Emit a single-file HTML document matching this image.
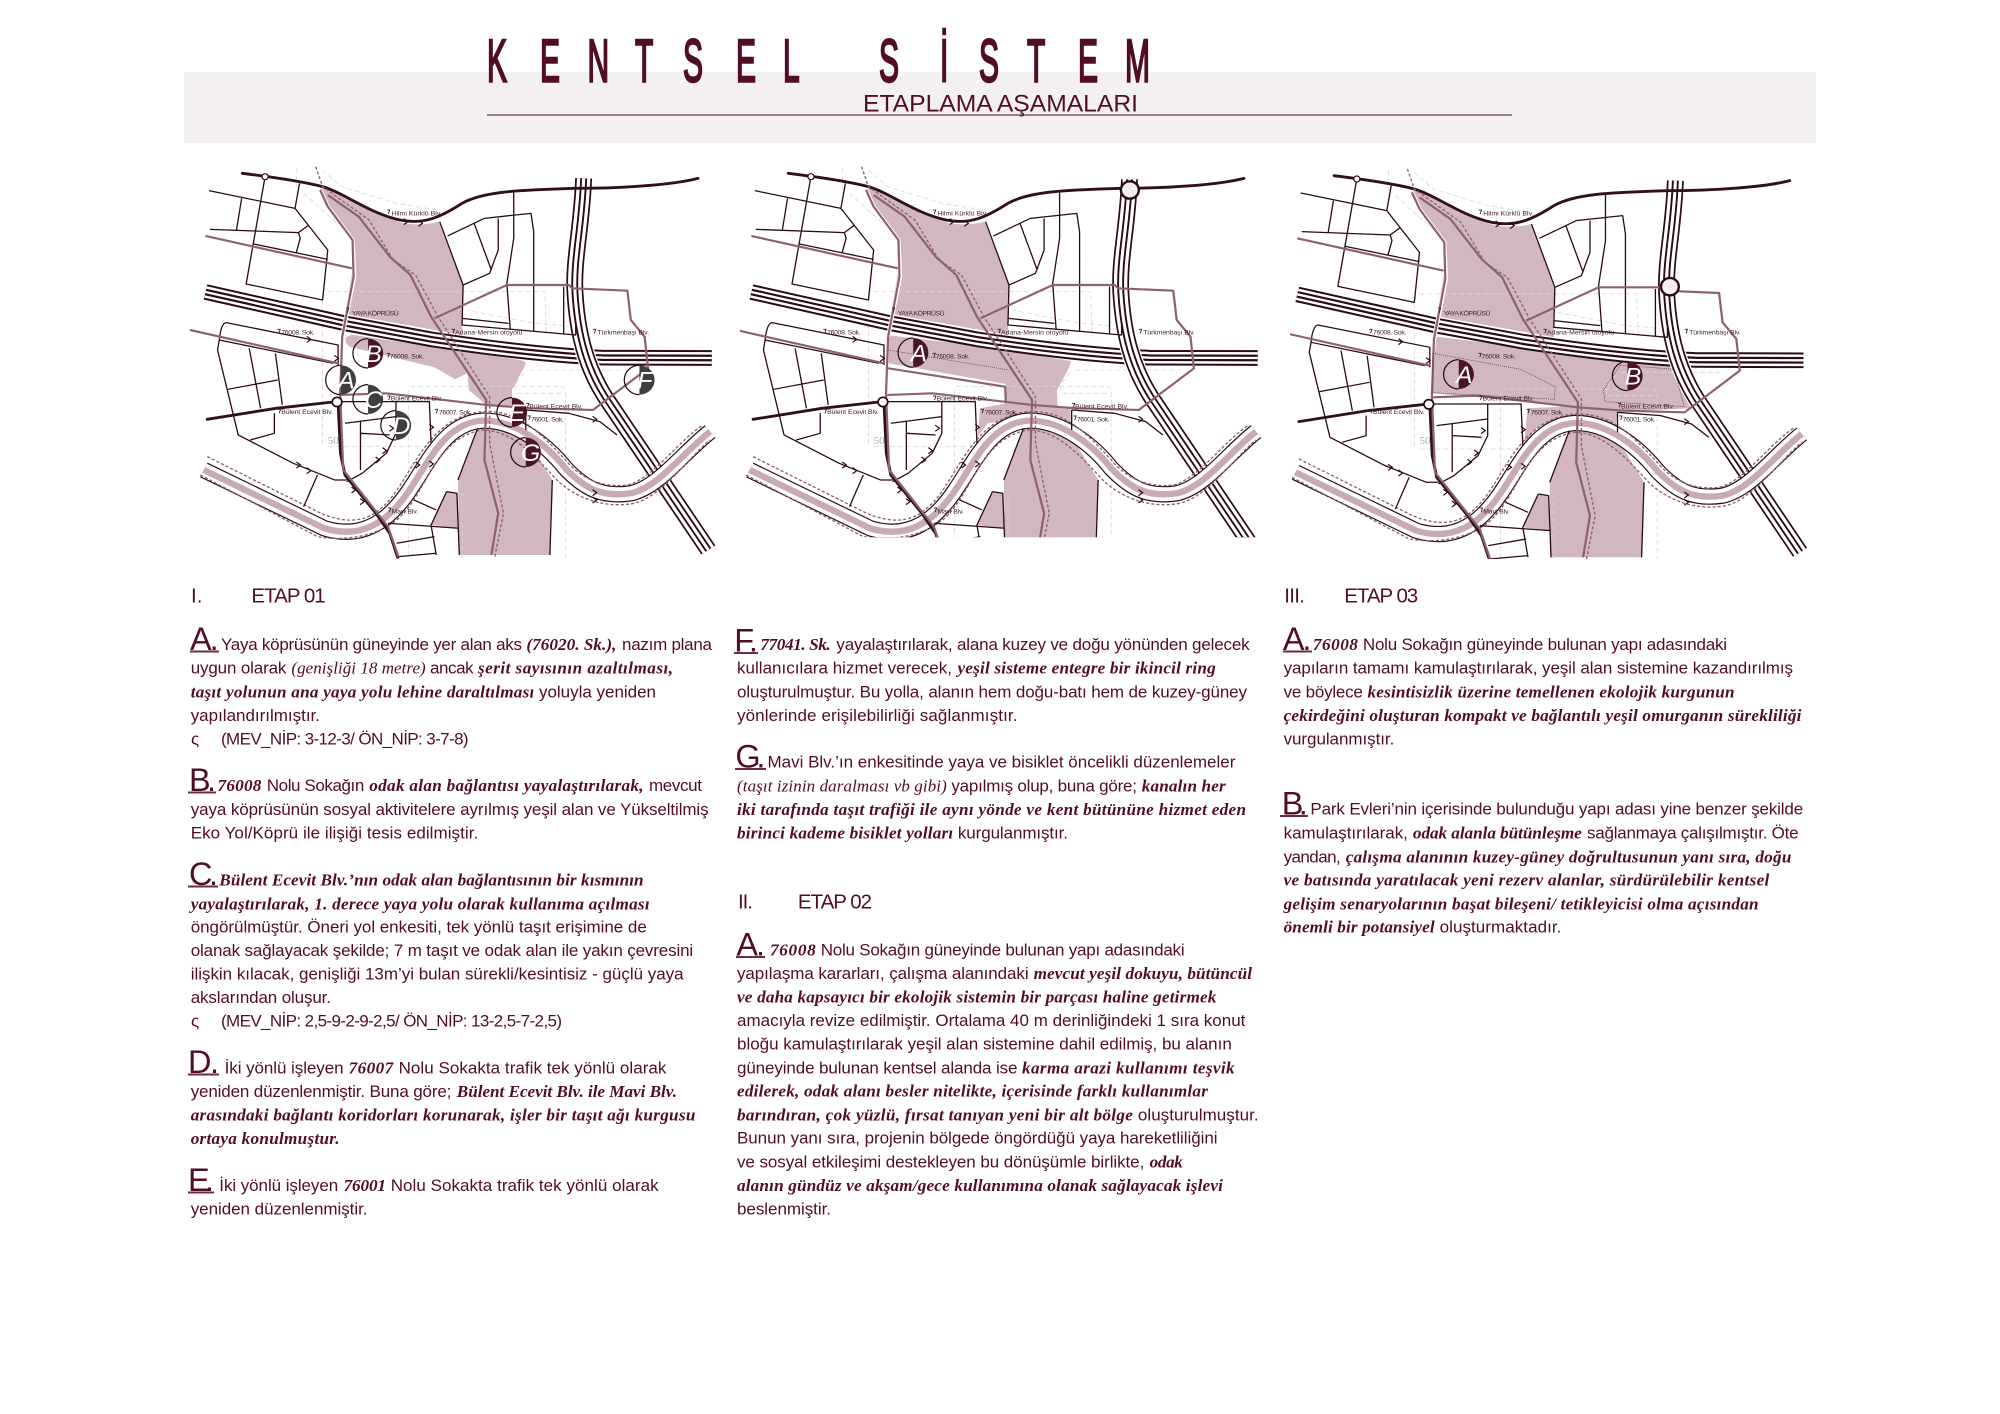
<!DOCTYPE html>
<html lang="tr"><head><meta charset="utf-8"><title>Kentsel Sistem</title>
<style>
html,body{margin:0;padding:0;background:#fff}
svg{display:block}
text{fill:#520d26}
.s{font:17px "Liberation Sans",sans-serif}
.b{font:italic bold 17.2px "Liberation Serif",serif}
.i{font:italic 17px "Liberation Serif",serif}
.h{font:32.5px "Liberation Sans",sans-serif}
.e{font:20.5px "Liberation Sans",sans-serif}
.m{font:20px "Liberation Sans",sans-serif;fill:#3f1f2a}
.ml{font:italic 72px "Liberation Sans",sans-serif;fill:#fff;text-anchor:middle}
.d{fill:none;stroke:#2a0a14;stroke-width:3.8;stroke-linejoin:round}
.k{fill:none;stroke:#30101a;stroke-width:8.5;stroke-linecap:round;stroke-linejoin:round}
.p{fill:none;stroke:#8d6170;stroke-width:6.5;stroke-linejoin:round}
.q{fill:none;stroke:#8d6170;stroke-width:4;stroke-dasharray:9 6}
.g{fill:none;stroke:#d8d8d8;stroke-width:2.4;stroke-dasharray:14 9}
.f{fill:#d1b8c0}
.o{fill:none;stroke:#4f2d39;stroke-width:2;stroke-dasharray:3 3}
</style></head><body>
<svg xmlns="http://www.w3.org/2000/svg" width="2000" height="1414" viewBox="0 0 2000 1414">
<defs>
<path id="he" d="M45,396 L450,490 L700,538 Q1000,585 1200,593 L1515,594"/>
<path id="hn" d="M1143,55 C1138,200 1112,300 1118,400 C1125,520 1150,620 1205,710 L1505,1170"/>
<path id="mv" d="M40,930 L390,1105 C470,1130 540,1110 600,1040 C680,950 720,790 850,782 C950,780 1040,860 1090,925 C1150,990 1200,1012 1280,1000 C1360,982 1430,880 1510,815"/>
<path id="c" d="M-9,-9 L3,0 L-9,9" fill="none" stroke="#2a0a14" stroke-width="3.6"/>
<path id="hl" d="M0,-44 A44,44 0 0 0 0,44" fill="none" stroke="#2a0a14" stroke-width="3.6"/>
<path id="hg" d="M0,-44 A44,44 0 0 1 0,44 Z" fill="#3f3f43"/>
<path id="hm" d="M0,-44 A44,44 0 0 1 0,44 Z" fill="#4a1423"/>
<clipPath id="c1"><rect x="0" y="0" width="1568" height="1197"/></clipPath>
<clipPath id="c2"><rect x="0" y="0" width="1568" height="1132"/></clipPath>
<g id="base">
  <path class="f" d="M378,88 Q390,82 410,90 L470,125 Q560,170 620,190 Q680,198 722,185 L793,375 L790,525 L700,508 L450,462 L472,330 L475,245 L400,135 Z"/>
  <path class="f" d="M835,805 L778,960 L782,1185 L1045,1185 L1052,960 L975,830 L945,790 L850,770 Z"/>
  <path class="f" d="M745,995 L775,1000 L780,1105 L700,1095 Z"/>
  <g class="g">
    <path d="M310,25 V100 M330,100 L470,230 M385,30 L440,80 L600,130 L720,150"/>
    <path d="M400,395 H1030 L1035,520 M385,400 V860 M400,860 H700"/>
    <path d="M640,680 H1075 Q1090,680 1090,700 V1195 M635,690 V1195"/>
    <path d="M985,630 H1280 M970,640 Q930,680 950,700 L1080,700 M800,450 L1000,490 L1120,500 M790,1195 V1000"/>
  </g>
  <use href="#he" fill="none" stroke="#2a0a14" stroke-width="47"/>
  <use href="#he" fill="none" stroke="#fff" stroke-width="35"/>
  <use href="#he" fill="none" stroke="#2a0a14" stroke-width="20"/>
  <use href="#he" fill="none" stroke="#fff" stroke-width="7"/>
  <use href="#hn" fill="none" stroke="#fff" stroke-width="56"/>
  <use href="#hn" fill="none" stroke="#2a0a14" stroke-width="49"/>
  <use href="#hn" fill="none" stroke="#fff" stroke-width="39"/>
  <use href="#hn" fill="none" stroke="#2a0a14" stroke-width="20"/>
  <use href="#hn" fill="none" stroke="#fff" stroke-width="9"/>
  <use href="#mv" fill="none" stroke="#2a0a14" stroke-width="49"/>
  <use href="#mv" fill="none" stroke="#fff" stroke-width="42"/>
  <use href="#mv" fill="none" stroke="#c9aab4" stroke-width="19"/>
  <path class="q" d="M50,890 L380,1060 C450,1090 510,1090 560,1040 C640,970 680,770 850,755 C950,750 1010,810 1090,900 C1130,950 1190,985 1270,975 C1340,960 1420,840 1490,795"/>
  <path class="q" d="M30,945 L370,1130 C450,1145 560,1130 620,1060 C690,980 720,830 850,810 C940,810 1010,900 1070,965 C1130,1020 1210,1045 1290,1030 C1370,1010 1450,890 1510,840"/>
  <path class="k" d="M152,40 C230,50 330,65 385,80 C450,100 520,160 610,180 C680,195 730,170 790,130 C850,95 950,90 1120,85 C1250,85 1400,75 1475,55"/>
  <path class="k" d="M50,778 L250,745 L425,725"/>
  <path class="k" d="M430,725 L437,880 L450,945 L540,1060 L580,1120 L603,1192"/>
  <g class="d">
    <path d="M55,92 L305,145 L400,270 L385,420 L163,372 L218,50 M318,70 L305,145 M150,115 L135,210 M58,208 L315,218 L345,195 M315,218 L320,235 L308,280 M185,252 L400,298"/>
    <path d="M725,185 L793,375 L870,340 L895,270 L895,175 M748,228 L855,175 L990,160 L998,215 L998,515 M825,190 L875,330 M940,95 L940,235 L920,370 L930,510 M1085,380 V520 M793,375 L790,495 L1120,525 L1120,490 M790,475 L925,490"/>
    <path d="M105,488 L430,555 V615 M105,488 Q90,490 85,540 L80,570 L140,825 L300,910 L420,960 L455,960 M85,540 L415,610 M172,565 L205,745 M248,580 L268,735 M110,688 L255,660 M245,760 V820 L175,840 M370,945 L330,1040"/>
    <path d="M425,725 H695 L700,850 M598,725 V820 L570,880 L500,940 L455,965 M450,790 L598,770 M495,785 V930 M497,820 L580,825"/>
    <path d="M575,1090 L780,1105 M650,1020 L715,1050 M745,995 L700,1095 L715,1185 M600,1150 L710,1130 M605,1190 L715,1180 M745,995 L775,1000 L782,1185 M835,805 L778,960 M1045,1185 L1052,960"/>
    <path d="M975,750 L1100,760 L1190,785 L1240,825 M975,750 V810"/>
  </g>
  <path fill="none" stroke="#fff" stroke-width="12" d="M378,90 L400,140 L472,240 L477,350 L442,530"/>
  <path class="p" d="M378,90 L400,140 L472,240 L475,350 L442,530 L436,700 L445,930 L575,1100 L605,1190"/>
  <path class="p" stroke-width="4.5" d="M45,228 L470,325 M0,510 L430,610"/>
  <path class="p" stroke-width="7.5" d="M400,105 L490,170 L580,290 L640,345 L700,470 L860,720 L855,900 L895,1060 L875,1185"/>
  <path class="q" d="M365,20 L385,80 L520,180 L590,300 L655,345 L720,470 L870,710 L870,850 L910,1060 L885,1190"/>
  <path class="p" d="M440,705 L570,700 L860,735"/>
  <path class="p" stroke-width="5" d="M710,475 L920,375 H1100 L1110,385 L1270,392 L1280,480 L1320,530 L1330,625 L1170,750 L990,745 L860,735"/>
  <use href="#c" x="630" y="185"/><use href="#c" x="672" y="190"/><use href="#c" x="348" y="538"/><use href="#c" x="428" y="595"/><use href="#c" x="318" y="915"/><use href="#c" x="348" y="932"/><use href="#c" x="704" y="802"/><use href="#c" x="1178" y="778"/><use href="#c" x="1178" y="998"/><use href="#c" x="1178" y="1020"/><use href="#c" x="664" y="915"/><use href="#c" x="704" y="912"/><use href="#c" x="548" y="900"/><use href="#c" x="568" y="872"/><use href="#c" x="588" y="805"/><use href="#c" x="478" y="990"/><use href="#c" x="503" y="1025"/>
</g>
<g id="labels">
  <text class="m" x="585" y="166" textLength="146">Hilmi Kürklü Blv.</text>
  <text class="m" x="470" y="466" textLength="136">YAYA KÖPRÜSÜ</text>
  <text class="m" x="265" y="524" textLength="97">76008. Sok.</text>
  <text class="m" x="770" y="524" textLength="195">Adana-Mersin otoyolu</text>
  <text class="m" x="1183" y="524" textLength="150">Türkmenbaşı Blv.</text>
  <text class="m" x="580" y="596" textLength="100">76008. Sok.</text>
  <text class="m" x="583" y="722" textLength="150">Bülent Ecevit Blv.</text>
  <text class="m" x="265" y="762" textLength="150">Bülent Ecevit Blv.</text>
  <text class="m" x="723" y="764" textLength="95">76007. Sok.</text>
  <text class="m" x="985" y="746" textLength="155">Bülent Ecevit Blv.</text>
  <text class="m" x="990" y="785" textLength="95">76001. Sok.</text>
  <text class="m" x="585" y="1060" textLength="77">Mavi Blv.</text>
  <text x="400" y="852" style="font:32px 'Liberation Serif',serif;fill:#aaa">50</text>
  <path d="M572,150 h8 l-4,12 M453,444 h8 l-4,14 M254,508 h8 l-4,12 M760,508 h8 l-4,12 M1170,508 h8 l-4,12 M571,580 h8 l-4,12 M573,708 h8 l-4,12 M255,748 h8 l-4,12 M711,748 h8 l-4,12 M976,730 h8 l-4,12 M980,768 h8 l-4,12 M575,1044 h8 l-4,12" fill="none" stroke="#3a1420" stroke-width="2.5"/>
</g>
</defs>

<rect width="2000" height="1414" fill="#fff"/>
<rect x="184" y="72" width="1632" height="71" fill="#f4f0f2"/>
<text transform="translate(0,81.7) scale(.5,1)" x="974 1080 1175 1270 1366 1472 1566 1660 1758 1880 1958 2054 2156 2250" style="font:60px 'Liberation Sans',sans-serif;stroke:#520d26;stroke-width:2.4">KENTSEL SİSTEM</text>
<rect x="487" y="114" width="1025" height="2" fill="#a07a88"/>
<text x="863" y="111.7" textLength="275" lengthAdjust="spacingAndGlyphs" style="font:24px 'Liberation Sans',sans-serif">ETAPLAMA AŞAMALARI</text>

<!-- MAP 1 -->
<g transform="translate(190,160) scale(.3444,.3333)" clip-path="url(#c1)">
  <path class="f" d="M452,532 Q448,556 470,562 L710,622 L770,658 L805,640 L810,690 L860,735 L935,740 L935,690 L975,612 Q975,605 960,600 L700,560 L470,524 Z"/>
  <use href="#base"/><use href="#labels"/>
  <g transform="translate(438,660)"><use href="#hl"/><use href="#hg"/><text class="ml" x="16" y="26">A</text></g>
  <g transform="translate(517,580)"><use href="#hl"/><use href="#hm"/><text class="ml" x="16" y="26">B</text></g>
  <g transform="translate(517,718)"><use href="#hl"/><use href="#hg"/><text class="ml" x="16" y="26">C</text></g>
  <g transform="translate(598,796)"><use href="#hl"/><use href="#hg"/><text class="ml" x="16" y="26">D</text></g>
  <g transform="translate(935,757)"><use href="#hl"/><use href="#hm"/><text class="ml" x="14" y="26">E</text></g>
  <g transform="translate(975,877)"><use href="#hl"/><use href="#hm"/><text class="ml" x="14" y="26">G</text></g>
  <g transform="translate(1305,660)"><use href="#hl"/><use href="#hg"/><text class="ml" x="16" y="26">F</text></g>
  <circle cx="218" cy="50" r="9" fill="#fff" stroke="#2a0a14" stroke-width="3.6"/>
  <circle cx="427" cy="726" r="14" fill="#fff" stroke="#2a0a14" stroke-width="5"/>
</g>

<!-- MAP 2 -->
<g transform="translate(740,160) scale(.3444,.3333)" clip-path="url(#c2)">
  <path class="f" d="M432,526 L700,558 L960,603 Q965,610 920,690 L922,740 L960,745 L960,815 L850,770 L720,790 L690,830 L697,745 L775,730 L772,672 L432,610 Z"/>
  <g transform="translate(-12,0)"><use href="#base"/><use href="#labels"/></g>
  <path class="p" stroke-width="4.5" fill="none" d="M430,625 L770,680 L772,730"/>
  <path class="o" d="M430,570 L780,630"/>
  <g transform="translate(503,578)"><use href="#hl"/><use href="#hm"/><text class="ml" x="16" y="26">A</text></g>
  <circle cx="206" cy="50" r="9" fill="#fff" stroke="#2a0a14" stroke-width="3.6"/>
  <circle cx="415" cy="726" r="14" fill="#fff" stroke="#2a0a14" stroke-width="5"/>
  <rect x="1100" y="40" width="60" height="18" fill="#fff"/>
  <circle cx="1132" cy="90" r="26" fill="#f4eeee" stroke="#2a0a14" stroke-width="7"/>
</g>

<!-- MAP 3 -->
<g transform="translate(1290,160) scale(.3444,.3333)" clip-path="url(#c1)">
  <path class="f" d="M425,530 L700,565 L1115,622 L1165,745 L950,755 L945,820 L850,775 L720,800 L680,850 L690,745 L830,738 L415,700 L418,620 Z"/>
  <g transform="translate(-24,7)"><use href="#base"/></g>
  <g transform="translate(-24,0)"><use href="#labels"/></g>
  <path class="o" d="M415,580 L670,628 L770,680 L768,718 L415,698 Z M960,615 L1115,628 L1145,740 L915,725 L910,690 Z"/>
  <g transform="translate(490,643)"><use href="#hl"/><use href="#hm"/><text class="ml" x="16" y="26">A</text></g>
  <g transform="translate(980,648)"><use href="#hl"/><use href="#hm"/><text class="ml" x="16" y="26">B</text></g>
  <circle cx="194" cy="57" r="9" fill="#fff" stroke="#2a0a14" stroke-width="3.6"/>
  <circle cx="403" cy="733" r="14" fill="#fff" stroke="#2a0a14" stroke-width="5"/>
  <circle cx="1103" cy="380" r="26" fill="#f4eeee" stroke="#2a0a14" stroke-width="7"/>
</g>

<!-- COLUMN 1 -->
<text class="e" x="191" y="602.7">I.</text><text class="e" x="251.4" y="602.7" textLength="74.3">ETAP 01</text>

<text class="h" x="190" y="650" textLength="28.6">A.</text><rect x="190" y="650.5" width="29" height="2" fill="#6d2b40"/>
<text class="s" x="221" y="650" textLength="301">Yaya köprüsünün güneyinde yer alan aks</text>
<text class="b" x="526.4" y="650" textLength="90">(76020. Sk.),</text>
<text class="s" x="622" y="650" textLength="90">nazım plana</text>
<text class="s" x="190.7" y="673.7" textLength="95.7">uygun olarak</text>
<text class="i" x="291.4" y="673.7" textLength="134.3">(genişliği 18 metre)</text>
<text class="s" x="430" y="673.7" textLength="43.6">ancak</text>
<text class="b" x="478" y="673.7" textLength="195">şerit sayısının azaltılması,</text>
<text class="b" x="190.7" y="697.3" textLength="343.6">taşıt yolunun ana yaya yolu lehine daraltılması</text>
<text class="s" x="539" y="697.3" textLength="117">yoluyla yeniden</text>
<text class="s" x="190.7" y="721" textLength="129.3">yapılandırılmıştır.</text>
<text class="s" x="191" y="744.7">ς</text>
<text class="s" x="221" y="744.7" textLength="247.6">(MEV_NİP: 3-12-3/ ÖN_NİP: 3-7-8)</text>

<text class="h" x="189" y="791" textLength="27">B.</text><rect x="188" y="791.5" width="28" height="2" fill="#6d2b40"/>
<text class="b" x="217.5" y="791" textLength="43.9">76008</text>
<text class="s" x="266.8" y="791" textLength="97.5">Nolu Sokağın</text>
<text class="b" x="369.3" y="791" textLength="274.3">odak alan bağlantısı yayalaştırılarak,</text>
<text class="s" x="649" y="791" textLength="53">mevcut</text>
<text class="s" x="190.7" y="815" textLength="517.9">yaya köprüsünün sosyal aktivitelere ayrılmış yeşil alan ve Yükseltilmiş</text>
<text class="s" x="190.7" y="838.3" textLength="287.5">Eko Yol/Köprü ile ilişiği tesis edilmiştir.</text>

<text class="h" x="189" y="885" textLength="29">C.</text><rect x="188" y="885.5" width="30" height="2" fill="#6d2b40"/>
<text class="b" x="219.3" y="885.3" textLength="424.3">Bülent Ecevit Blv.’nın odak alan bağlantısının bir kısmının</text>
<text class="b" x="190.7" y="909.3" textLength="458.9">yayalaştırılarak, 1. derece yaya yolu olarak kullanıma açılması</text>
<text class="s" x="190.7" y="932.7" textLength="456.1">öngörülmüştür. Öneri yol enkesiti, tek yönlü taşıt erişimine de</text>
<text class="s" x="190.7" y="956" textLength="502.5">olanak sağlayacak şekilde; 7 m taşıt ve odak alan ile yakın çevresini</text>
<text class="s" x="190.7" y="979.7" textLength="492.9">ilişkin kılacak, genişliği 13m’yi bulan sürekli/kesintisiz - güçlü yaya</text>
<text class="s" x="190.7" y="1003" textLength="140.3">akslarından oluşur.</text>
<text class="s" x="191" y="1026.7">ς</text>
<text class="s" x="221" y="1026.7" textLength="341">(MEV_NİP: 2,5-9-2-9-2,5/ ÖN_NİP: 13-2,5-7-2,5)</text>

<text class="h" x="188" y="1073" textLength="31">D.</text><rect x="188" y="1073.5" width="31" height="2" fill="#6d2b40"/>
<text class="s" x="224.6" y="1073.3" textLength="119">İki yönlü işleyen</text>
<text class="b" x="348.6" y="1073.3" textLength="44.6">76007</text>
<text class="s" x="398.6" y="1073.3" textLength="267.8">Nolu Sokakta trafik tek yönlü olarak</text>
<text class="s" x="190.7" y="1097" textLength="260.7">yeniden düzenlenmiştir. Buna göre;</text>
<text class="b" x="456.8" y="1097" textLength="220.2">Bülent Ecevit Blv. ile Mavi Blv.</text>
<text class="b" x="190.7" y="1120.7" textLength="504.7">arasındaki bağlantı koridorları korunarak, işler bir taşıt ağı kurgusu</text>
<text class="b" x="190.7" y="1144" textLength="148.9">ortaya konulmuştur.</text>

<text class="h" x="188" y="1191" textLength="26">E.</text><rect x="188" y="1191.5" width="26" height="2" fill="#6d2b40"/>
<text class="s" x="219.3" y="1191" textLength="118.9">İki yönlü işleyen</text>
<text class="b" x="343.6" y="1191" textLength="42.4">76001</text>
<text class="s" x="390.7" y="1191" textLength="267.9">Nolu Sokakta trafik tek yönlü olarak</text>
<text class="s" x="190.7" y="1214.7" textLength="176.8">yeniden düzenlenmiştir.</text>

<!-- COLUMN 2 -->
<text class="h" x="734.3" y="651.7" textLength="23.6">F.</text><rect x="734" y="652" width="24" height="2" fill="#6d2b40"/>
<text class="b" x="760.4" y="650" textLength="70.3">77041. Sk.</text>
<text class="s" x="836.4" y="650" textLength="413.2">yayalaştırılarak, alana kuzey ve doğu yönünden gelecek</text>
<text class="s" x="737" y="673.7" textLength="215">kullanıcılara hizmet verecek,</text>
<text class="b" x="957.5" y="673.7" textLength="258.2">yeşil sisteme entegre bir ikincil ring</text>
<text class="s" x="737" y="697.3" textLength="510">oluşturulmuştur. Bu yolla, alanın hem doğu-batı hem de kuzey-güney</text>
<text class="s" x="737" y="721" textLength="280.5">yönlerinde erişilebilirliği sağlanmıştır.</text>

<text class="h" x="735.4" y="767.7" textLength="30">G.</text><rect x="735" y="768" width="31" height="2" fill="#6d2b40"/>
<text class="s" x="767.5" y="767.7" textLength="467.9">Mavi Blv.’ın enkesitinde yaya ve bisiklet öncelikli düzenlemeler</text>
<text class="i" x="737" y="791.3" textLength="209.8">(taşıt izinin daralması vb gibi)</text>
<text class="s" x="951.4" y="791.3" textLength="185.6">yapılmış olup, buna göre;</text>
<text class="b" x="1141.8" y="791.3" textLength="83.9">kanalın her</text>
<text class="b" x="737" y="815" textLength="509">iki tarafında taşıt trafiği ile aynı yönde ve kent bütününe hizmet eden</text>
<text class="b" x="737" y="838.7" textLength="216.2">birinci kademe bisiklet yolları</text>
<text class="s" x="957.9" y="838.7" textLength="110.1">kurgulanmıştır.</text>

<text class="e" x="738" y="908.7" textLength="15">II.</text><text class="e" x="797.9" y="908.7" textLength="74.1">ETAP 02</text>

<text class="h" x="736.4" y="955.7" textLength="28.6">A.</text><rect x="736" y="956" width="29" height="2" fill="#6d2b40"/>
<text class="b" x="770" y="955.7" textLength="45.7">76008</text>
<text class="s" x="820.7" y="955.7" textLength="363.9">Nolu Sokağın güneyinde bulunan yapı adasındaki</text>
<text class="s" x="737" y="979" textLength="291.6">yapılaşma kararları, çalışma alanındaki</text>
<text class="b" x="1033.6" y="979" textLength="218.4">mevcut yeşil dokuyu, bütüncül</text>
<text class="b" x="737" y="1002.7" textLength="479.4">ve daha kapsayıcı bir ekolojik sistemin bir parçası haline getirmek</text>
<text class="s" x="737" y="1026" textLength="508.4">amacıyla revize edilmiştir. Ortalama 40 m derinliğindeki 1 sıra konut</text>
<text class="s" x="737" y="1049.7" textLength="494.8">bloğu kamulaştırılarak yeşil alan sistemine dahil edilmiş, bu alanın</text>
<text class="s" x="737" y="1073.3" textLength="280.5">güneyinde bulunan kentsel alanda ise</text>
<text class="b" x="1022" y="1073.3" textLength="212.6">karma arazi kullanımı teşvik</text>
<text class="b" x="737" y="1096.7" textLength="470.9">edilerek, odak alanı besler nitelikte, içerisinde farklı kullanımlar</text>
<text class="b" x="737" y="1120.3" textLength="395.9">barındıran, çok yüzlü, fırsat tanıyan yeni bir alt bölge</text>
<text class="s" x="1137.9" y="1120.3" textLength="120.7">oluşturulmuştur.</text>
<text class="s" x="737" y="1143.7" textLength="480.5">Bunun yanı sıra, projenin bölgede öngördüğü yaya hareketliliğini</text>
<text class="s" x="737" y="1167.3" textLength="407.3">ve sosyal etkileşimi destekleyen bu dönüşümle birlikte,</text>
<text class="b" x="1149.6" y="1167.3" textLength="33.3">odak</text>
<text class="b" x="737" y="1191" textLength="485.9">alanın gündüz ve akşam/gece kullanımına olanak sağlayacak işlevi</text>
<text class="s" x="737" y="1214.3" textLength="94">beslenmiştir.</text>

<!-- COLUMN 3 -->
<text class="e" x="1284.3" y="602.7" textLength="20.7">III.</text><text class="e" x="1344.3" y="602.7" textLength="73.9">ETAP 03</text>

<text class="h" x="1282.9" y="650" textLength="28.5">A.</text><rect x="1283" y="650.5" width="29" height="2" fill="#6d2b40"/>
<text class="b" x="1312.9" y="650" textLength="45">76008</text>
<text class="s" x="1362.9" y="650" textLength="364.1">Nolu Sokağın güneyinde bulunan yapı adasındaki</text>
<text class="s" x="1283.6" y="673.7" textLength="509.4">yapıların tamamı kamulaştırılarak, yeşil alan sistemine kazandırılmış</text>
<text class="s" x="1283.6" y="697.3" textLength="79.3">ve böylece</text>
<text class="b" x="1367.5" y="697.3" textLength="367.1">kesintisizlik üzerine temellenen ekolojik kurgunun</text>
<text class="b" x="1283.6" y="721" textLength="517.8">çekirdeğini oluşturan kompakt ve bağlantılı yeşil omurganın sürekliliği</text>
<text class="s" x="1283.6" y="744.7" textLength="110.7">vurgulanmıştır.</text>

<text class="h" x="1281.8" y="814.3" textLength="26">B.</text><rect x="1280" y="815" width="28" height="2" fill="#6d2b40"/>
<text class="s" x="1310.4" y="814.3" textLength="492.8">Park Evleri’nin içerisinde bulunduğu yapı adası yine benzer şekilde</text>
<text class="s" x="1283.6" y="838.7" textLength="124.3">kamulaştırılarak,</text>
<text class="b" x="1412.9" y="838.7" textLength="168.9">odak alanla bütünleşme</text>
<text class="s" x="1587" y="838.7" textLength="211.6">sağlanmaya çalışılmıştır. Öte</text>
<text class="s" x="1283.6" y="862.3" textLength="57.1">yandan,</text>
<text class="b" x="1345.7" y="862.3" textLength="445.7">çalışma alanının kuzey-güney doğrultusunun yanı sıra, doğu</text>
<text class="b" x="1283.6" y="885.7" textLength="485.7">ve batısında yaratılacak yeni rezerv alanlar, sürdürülebilir kentsel</text>
<text class="b" x="1283.6" y="909.3" textLength="475">gelişim senaryolarının başat bileşeni/ tetikleyicisi olma açısından</text>
<text class="b" x="1283.6" y="932.7" textLength="151">önemli bir potansiyel</text>
<text class="s" x="1439.6" y="932.7" textLength="121.8">oluşturmaktadır.</text>
</svg>
</body></html>
